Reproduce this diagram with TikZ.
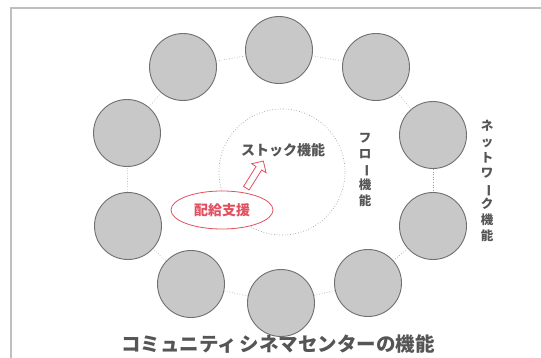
\documentclass[tikz,border=0pt]{standalone}
\usepackage{fontspec}
\newfontfamily\jp{Noto Sans CJK JP}
\usetikzlibrary{shapes.geometric,shapes.arrows}
\definecolor{ballfill}{HTML}{C8C8C8}
\definecolor{ballline}{HTML}{707070}
\definecolor{redline}{HTML}{E0505E}
\definecolor{txt}{HTML}{555555}
\tikzset{
  ball/.style={circle,draw=ballline,line width=0.9pt,fill=ballfill,minimum size=67pt,inner sep=0pt},
  ring/.style={draw=gray!80,dotted,line width=0.6pt},
  vtext/.style={font=\jp\bfseries\fontsize{12.5}{15.6}\selectfont,text=txt,align=center,inner sep=0pt},
}
\begin{document}
\begin{tikzpicture}[x=1pt,y=-1pt]
\useasboundingbox (0,0) rectangle (541,358);
\draw[gray!50,line width=1.6pt] (11,358) -- (11,8) -- (541,8);
% ring of circles
\node[ball] (c1) at (279,50) {};
\node[ball] (c2) at (376,67) {};
\node[ball] (c3) at (433,135) {};
\node[ball] (c4) at (433,226) {};
\node[ball] (c5) at (368,283) {};
\node[ball] (c6) at (281,303) {};
\node[ball] (c7) at (191,284) {};
\node[ball] (c8) at (128,226) {};
\node[ball] (c9) at (127,133) {};
\node[ball] (c10) at (183,67) {};
\foreach \a/\b in {c1/c2,c2/c3,c3/c4,c4/c5,c5/c6,c6/c7,c7/c8,c8/c9,c9/c10,c10/c1}
  \draw[ring] (\a) -- (\b);
% inner stock circle
\node[circle,draw=gray!80,dotted,line width=0.7pt,minimum size=126pt] (stock) at (282,172) {};
\node[font=\jp\bfseries\fontsize{14}{14}\selectfont,text=txt,inner sep=0pt] (stocklbl) at (283,150) {ストック機能};
% distribution support
\node[ellipse,draw=redline,line width=0.8pt,fill=white,minimum width=102pt,minimum height=38pt,inner sep=0pt,
  font=\jp\bfseries\fontsize{14}{14}\selectfont,text=redline] (haikyu) at (222,210) {配給支援};
\node[single arrow,draw=redline,line width=0.8pt,fill=white,minimum height=32pt,minimum width=17pt,
  single arrow head extend=3pt,rotate=58,inner sep=1.5pt] (arr) at (254,176) {};
% vertical labels
\node[vtext] (flow) at (365,170) {フ\\ロ\\\rotatebox[origin=c]{-90}{ー}\\機\\能};
\node[vtext] (net) at (487,181) {ネ\\ッ\\ト\\ワ\\\rotatebox[origin=c]{-90}{ー}\\ク\\機\\能};
% title
\node[font=\jp\bfseries\fontsize{19.5}{20}\selectfont,text=txt,inner sep=0pt] (title) at (278,344) {コミュニティ\hspace{3pt}シネマセンターの機能};
\end{tikzpicture}
\end{document}
